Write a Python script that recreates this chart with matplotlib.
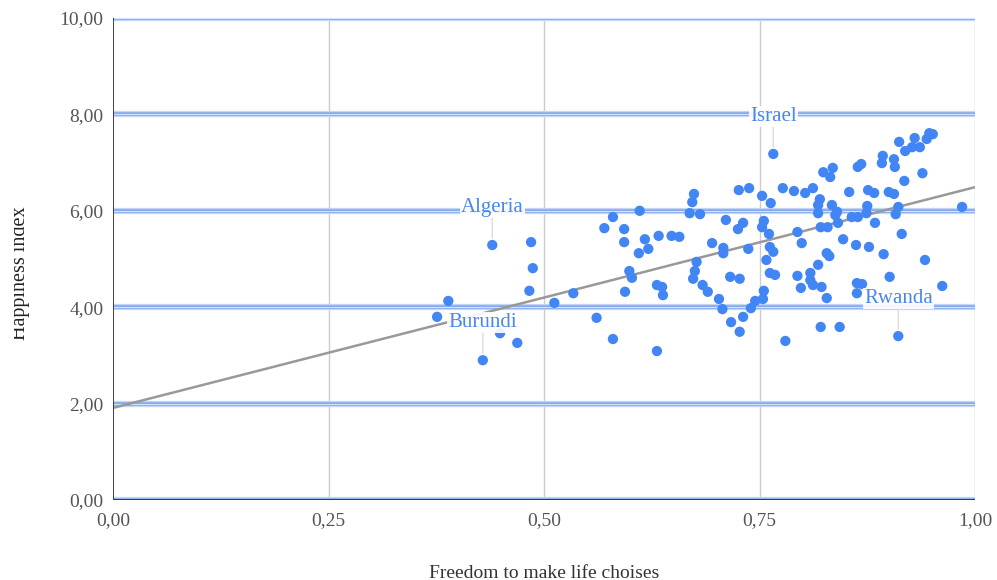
import numpy as np
import matplotlib
matplotlib.use("Agg")
import matplotlib.pyplot as plt
from matplotlib.transforms import Bbox, TransformedBbox, IdentityTransform

freedom = [0.376, 0.389, 0.429, 0.440, 0.449, 0.469, 0.485, 0.487, 0.483, 0.512,
           0.534, 0.561, 0.580, 0.631, 0.594, 0.599, 0.602, 0.631, 0.637, 0.638,
           0.570, 0.580, 0.611, 0.593, 0.593, 0.617, 0.621, 0.610, 0.633, 0.648,
           0.657, 0.674, 0.672, 0.669, 0.681, 0.677, 0.675, 0.673, 0.684, 0.690,
           0.695, 0.708, 0.708, 0.737, 0.726, 0.738, 0.711, 0.725, 0.731, 0.716,
           0.727, 0.703, 0.707, 0.717, 0.727, 0.731, 0.740, 0.745, 0.754, 0.755,
           0.753, 0.763, 0.766, 0.755, 0.753, 0.761, 0.762, 0.766, 0.758, 0.762,
           0.768, 0.777, 0.790, 0.803, 0.812, 0.824, 0.832, 0.835, 0.820, 0.818,
           0.818, 0.834, 0.838, 0.821, 0.829, 0.794, 0.799, 0.828, 0.831, 0.818,
           0.809, 0.794, 0.809, 0.812, 0.798, 0.822, 0.828, 0.821, 0.780, 0.843,
           0.947, 0.951, 0.930, 0.936, 0.927, 0.919, 0.912, 0.944, 0.893, 0.892,
           0.906, 0.907, 0.868, 0.864, 0.939, 0.918, 0.854, 0.876, 0.883, 0.900,
           0.906, 0.985, 0.911, 0.908, 0.875, 0.874, 0.864, 0.857, 0.840, 0.841,
           0.884, 0.915, 0.847, 0.862, 0.877, 0.894, 0.942, 0.901, 0.962, 0.863,
           0.869, 0.863, 0.911]
happiness = [3.80, 4.13, 2.90, 5.29, 3.46, 3.26, 5.35, 4.81, 4.34, 4.09,
             4.29, 3.78, 3.34, 3.09, 4.32, 4.75, 4.61, 4.46, 4.42, 4.25,
             5.64, 5.87, 6.00, 5.62, 5.35, 5.41, 5.21, 5.12, 5.48, 5.48,
             5.46, 6.35, 6.18, 5.95, 5.93, 4.94, 4.75, 4.59, 4.46, 4.32,
             5.33, 5.23, 5.12, 5.21, 6.43, 6.47, 5.81, 5.62, 5.75, 4.63,
             4.59, 4.17, 3.96, 3.69, 3.49, 3.80, 3.98, 4.13, 4.17, 4.34,
             6.31, 6.16, 7.18, 5.79, 5.66, 5.52, 5.25, 5.15, 4.98, 4.71,
             4.67, 6.47, 6.41, 6.37, 6.47, 6.80, 6.70, 6.89, 6.24, 6.12,
             5.95, 6.12, 5.91, 5.66, 5.66, 5.56, 5.33, 5.12, 5.06, 4.88,
             4.71, 4.65, 4.56, 4.46, 4.40, 4.42, 4.19, 3.59, 3.30, 3.59,
             7.61, 7.59, 7.51, 7.32, 7.32, 7.24, 7.43, 7.49, 7.14, 6.99,
             7.07, 6.91, 6.97, 6.91, 6.78, 6.62, 6.39, 6.43, 6.37, 6.39,
             6.35, 6.08, 6.08, 5.93, 6.10, 5.95, 5.87, 5.87, 5.98, 5.75,
             5.75, 5.52, 5.41, 5.29, 5.25, 5.10, 4.98, 4.63, 4.44, 4.50,
             4.48, 4.29, 3.40]

label_names = ["Israel", "Algeria", "Burundi", "Rwanda"]
label_freedom = [0.766, 0.440, 0.429, 0.911]
label_happiness = [7.18, 5.29, 2.90, 3.40]

# linear trendline as shown in the chart
trend_intercept = 1.91
trend_slope = 4.58

x_ticks = [0.0, 0.25, 0.5, 0.75, 1.0]
y_ticks = [0, 2, 4, 6, 8, 10]

def fmt(v):
    return f"{v:.2f}".replace(".", ",")

W, H = 997, 580
fig = plt.figure(figsize=(W / 100, H / 100), dpi=100)
ax = fig.add_axes([113 / W, 80 / H, (975 - 113) / W, (500 - 18) / H])
serif = ["Liberation Serif", "DejaVu Serif"]
point_color = "#4285f4"

ax.set_xlim(0, 1)
ax.set_ylim(0, 10)
for s in ax.spines.values():
    s.set_visible(False)

# vertical grid
for xv in x_ticks[1:]:
    ax.axvline(xv, color="#cccccc", lw=1.0, zorder=0.5)
# horizontal grid bands
for yv in y_ticks:
    ax.axhline(yv, color="#c3d6f7", lw=4.5, zorder=0.6, solid_capstyle="butt")
    ax.axhline(yv, color="#86acee", lw=2.6, zorder=0.7, solid_capstyle="butt")
    ax.axhline(yv, color="#d6e4fb", lw=0.7, zorder=0.8, solid_capstyle="butt")
# axes lines
ax.axvline(0, color="#333333", lw=1.3, zorder=3)
ax.axhline(0, color="#333333", lw=1.3, zorder=3)

# trendline
xx = np.array([0.0, 1.0])
ax.plot(xx, trend_intercept + trend_slope * xx, color="#999999", lw=1.8, zorder=2,
        solid_capstyle="butt")

ax.scatter(freedom, happiness, s=55, color=point_color, edgecolors="none", zorder=4)

for name, fx, hy in zip(label_names, label_freedom, label_happiness):
    ax.annotate(name, xy=(fx, hy), xytext=(0, 27.0), textcoords="offset points",
                ha="center", va="center", color="#4a86ee", fontsize=15,
                family=serif, zorder=6,
                bbox=dict(boxstyle="square,pad=0.05", fc="white", ec="none", alpha=0.9),
                arrowprops=dict(arrowstyle="-", color="#dddddd", lw=1.0, shrinkA=0, shrinkB=5))

ax.set_xticks(x_ticks)
ax.set_xticklabels([fmt(v) for v in x_ticks])
ax.set_yticks(y_ticks)
ax.set_yticklabels([fmt(v) for v in y_ticks])
ax.tick_params(length=0, labelsize=14, labelcolor="#555555")
ax.tick_params(axis="y", pad=7)
ax.tick_params(axis="x", pad=9)
for lab in ax.get_xticklabels() + ax.get_yticklabels():
    lab.set_family(serif)

fig.text(544 / W, 1 - 573 / H, "Freedom to make life choises", ha="center", va="center",
         fontsize=14, color="#333333", family=serif)
ylab = fig.text(25 / W, 1 - 340 / H, "Happiness index", ha="left", va="baseline",
                rotation=90, rotation_mode="anchor", fontsize=14.5, color="#222222",
                family=serif)
# left part of the label is cut off in the original
ylab.set_clip_box(TransformedBbox(Bbox([[14, 0], [W, H]]), IdentityTransform()))
ylab.set_clip_on(True)

fig.savefig("out.png", dpi=100)
